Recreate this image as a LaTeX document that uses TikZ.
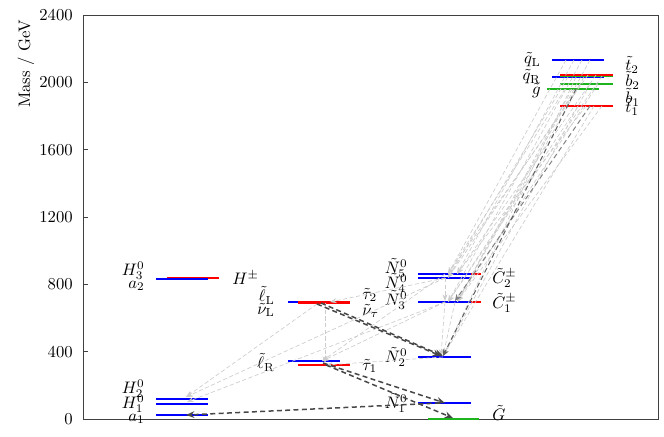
\documentclass[tikz,border=0pt]{standalone}
\usetikzlibrary{arrows.meta}
\definecolor{lvblue}{RGB}{0,0,255}
\definecolor{lvred}{RGB}{255,0,0}
\definecolor{lvgreen}{RGB}{30,180,30}
\begin{document}
\begin{tikzpicture}[x=0.6pt,y=-0.6pt,
  axisline/.style={draw=black!75, line width=0.5pt},
  lvB/.style={draw=lvblue, line width=1.2pt},
  lvR/.style={draw=lvred, line width=1.2pt},
  lvG/.style={draw=lvgreen, line width=1.2pt},
  lbl/.style={inner sep=0pt, font=\normalsize},
  lblL/.style={lbl, anchor=east},
  lblR/.style={lbl, anchor=west},
  ticklbl/.style={inner sep=0pt, anchor=east},
  dk/.style={draw=black!72, line width=0.9pt, dash pattern=on 3pt off 2pt, -{Stealth[length=5pt,width=4pt]}},
  md/.style={draw=black!50, line width=0.6pt, dash pattern=on 3pt off 2pt, -{Stealth[length=4pt,width=3.5pt]}},
  lt/.style={draw=black!20, line width=0.4pt, dash pattern=on 2.5pt off 1.5pt, -{Stealth[length=4pt,width=3pt]}}
]
\useasboundingbox (0,0) rectangle (664,436);
% axis
\draw[axisline] (83,15) rectangle (658,419);
\foreach \m in {0,400,...,2400}{
  \pgfmathsetmacro{\yy}{419-\m*0.168333}
  \draw[axisline] (83,\yy) -- (88,\yy);
  \node[ticklbl] (tick\m) at (73,\yy) {\m};
}
\node[rotate=90, inner sep=0pt] (ylab) at (26,64) {Mass / GeV};

% ---- column 1: Higgs
\draw[lvR] (167,277.6) -- (219,277.6);
\draw[lvB] (156,278.6) -- (208,278.6);
\draw[lvB] (156,398.7) -- (208,398.7);
\draw[lvB] (156,404.3) -- (208,404.3);
\draw[lvB] (156,415.3) -- (208,415.3);
\node[lblL] (lH3) at (145,271) {$H_3^0$};
\node[lblL] (la2) at (145,286) {$a_2$};
\node[lblR] (lHc) at (232,278) {$H^\pm$};
\node[lblL] (lH2) at (145,389) {$H_2^0$};
\node[lblL] (lH1) at (145,404) {$H_1^0$};
\node[lblL] (la1) at (145,419) {$a_1$};

% ---- column 2: sleptons
\draw[lvB] (288,302.3) -- (340,302.3);
\draw[lvR, line width=1.6pt] (298,302.5) -- (350,302.5);
\draw[lvB] (288,360.7) -- (340,360.7);
\draw[lvR] (298,365) -- (350,365);
\node[lblL] (llL) at (275,295) {$\tilde{\ell}_{\mathrm{L}}$};
\node[lblL] (lnL) at (275,310) {$\tilde{\nu}_{\mathrm{L}}$};
\node[lblL] (llR) at (275,362) {$\tilde{\ell}_{\mathrm{R}}$};
\node[lblR] (lt2) at (362,295) {$\tilde{\tau}_2$};
\node[lblR] (lnt) at (362,311) {$\tilde{\nu}_\tau$};
\node[lblR] (lt1) at (362,366) {$\tilde{\tau}_1$};

% ---- column 3: neutralinos, charginos, gravitino
\draw[lvR] (428,274.3) -- (481,274.3);
\draw[lvR] (428,301.7) -- (481,301.7);
\draw[lvB] (418,274.3) -- (471,274.3);
\draw[lvB] (418,278) -- (471,278);
\draw[lvB] (418,301.7) -- (471,301.7);
\draw[lvB] (418,356.7) -- (471,356.7);
\draw[lvB] (418,403) -- (471,403);
\draw[lvG] (428,419.3) -- (479,419.3);
\node[lblL] (lN5) at (408,268) {$\tilde{N}_5^0$};
\node[lblL] (lN4) at (408,283) {$\tilde{N}_4^0$};
\node[lblL] (lN3) at (408,300) {$\tilde{N}_3^0$};
\node[lblL] (lN2) at (408,357) {$\tilde{N}_2^0$};
\node[lblL] (lN1) at (408,403) {$\tilde{N}_1^0$};
\node[lblR] (lC2) at (492,278) {$\tilde{C}_2^\pm$};
\node[lblR] (lC1) at (492,303) {$\tilde{C}_1^\pm$};
\node[lblR] (lG) at (492,413) {$\tilde{G}$};

% ---- column 4: squarks, gluino
\draw[lvB] (552,59.7) -- (604,59.7);
\draw[lvB] (552,76.7) -- (604,76.7);
\draw[lvG] (560,76) -- (613,76);
\draw[lvR] (560,74.7) -- (613,74.7);
\draw[lvG] (560,84.3) -- (613,84.3);
\draw[lvG] (547,88.8) -- (599,88.8);
\draw[lvR] (560,105.7) -- (613,105.7);
\node[lblL] (lqL) at (541,60) {$\tilde{q}_{\mathrm{L}}$};
\node[lblL] (lqR) at (541,77) {$\tilde{q}_{\mathrm{R}}$};
\node[lblL] (lgl) at (541,91) {$\tilde{g}$};
\node[lblR] (lst2) at (625,65) {$\tilde{t}_2$};
\node[lblR] (lsb2) at (625,80) {$\tilde{b}_2$};
\node[lblR] (lsb1) at (625,97) {$\tilde{b}_1$};
\node[lblR] (lst1) at (625,107) {$\tilde{t}_1$};

% ---- decay end points
\coordinate (H2e) at (186,397);
\coordinate (H1e) at (187,402);
\coordinate (a1e) at (186,415);
\coordinate (lLs) at (317,304);
\coordinate (tau2s) at (321,303);
\coordinate (tau1e) at (325,363);
\coordinate (tau2v) at (325,303);
\coordinate (lRe) at (322,361);
\coordinate (lLe) at (330,302);
\coordinate (lRs) at (323,363);
\coordinate (tau1s) at (326,365);
\coordinate (N5s) at (445,274);
\coordinate (N4s) at (445,278);
\coordinate (N3s) at (445,302);
\coordinate (C1s) at (455,302);
\coordinate (N2s) at (443,357);
\coordinate (N2a) at (441,356);
\coordinate (N2b) at (443,356);
\coordinate (N1a) at (445,403);
\coordinate (N1s) at (440,403);
\coordinate (N3e) at (445,301);
\coordinate (C1e) at (455,301);
\coordinate (Ge) at (453,418);

% light decays among the lower states
\draw[lt] (lLs) -- (H2e);
\draw[lt] (N4s) -- (H2e);
\draw[lt] (N3s) -- (H1e);
\draw[lt] (tau2v) -- (tau1e);
\draw[lt] (N3s) -- (lRe);
\draw[lt] (N4s) -- (lLe);
\draw[lt] (N5s) -- (lRe);
\draw[lt] (N2s) -- (tau1s);
\draw[lt] (N4s) -- (N3e);
\draw[lt] (C1s) -- (N2b);
\draw[lt] (N3s) -- (N2a);

% squark / gluino bundle
\foreach \sx/\sy/\ex/\ey [count=\i] in {
  566/60/448/274, 574/60/457/274, 582/60/448/302, 590/60/457/302,
  568/77/448/278, 576/77/443/356, 584/77/457/302,
  588/75/448/274, 596/75/457/274, 602/76/448/302,
  580/84/448/278, 590/84/443/356, 598/84/457/302,
  565/89/448/274, 572/89/457/302,
  578/106/448/302, 586/106/457/274, 594/106/443/356, 602/106/457/302}{
  \coordinate (bs\i) at (\sx,\sy);
  \coordinate (be\i) at (\ex,\ey);
  \draw[lt] (bs\i) -- (be\i);
}
\coordinate (gls) at (576,89);
\coordinate (t1s) at (590,106);
\draw[md] (t1s) -- (C1e);
\draw[md, draw=black!62] (gls) -- (N2b);

% dominant decays
\draw[dk] (lLs) -- (N2a);
\draw[dk] (tau2s) -- (N2b);
\draw[dk] (lRs) -- (N1a);
\draw[dk] (tau1s) -- (Ge);
\draw[dk] (N1s) -- (a1e);
\end{tikzpicture}
\end{document}
